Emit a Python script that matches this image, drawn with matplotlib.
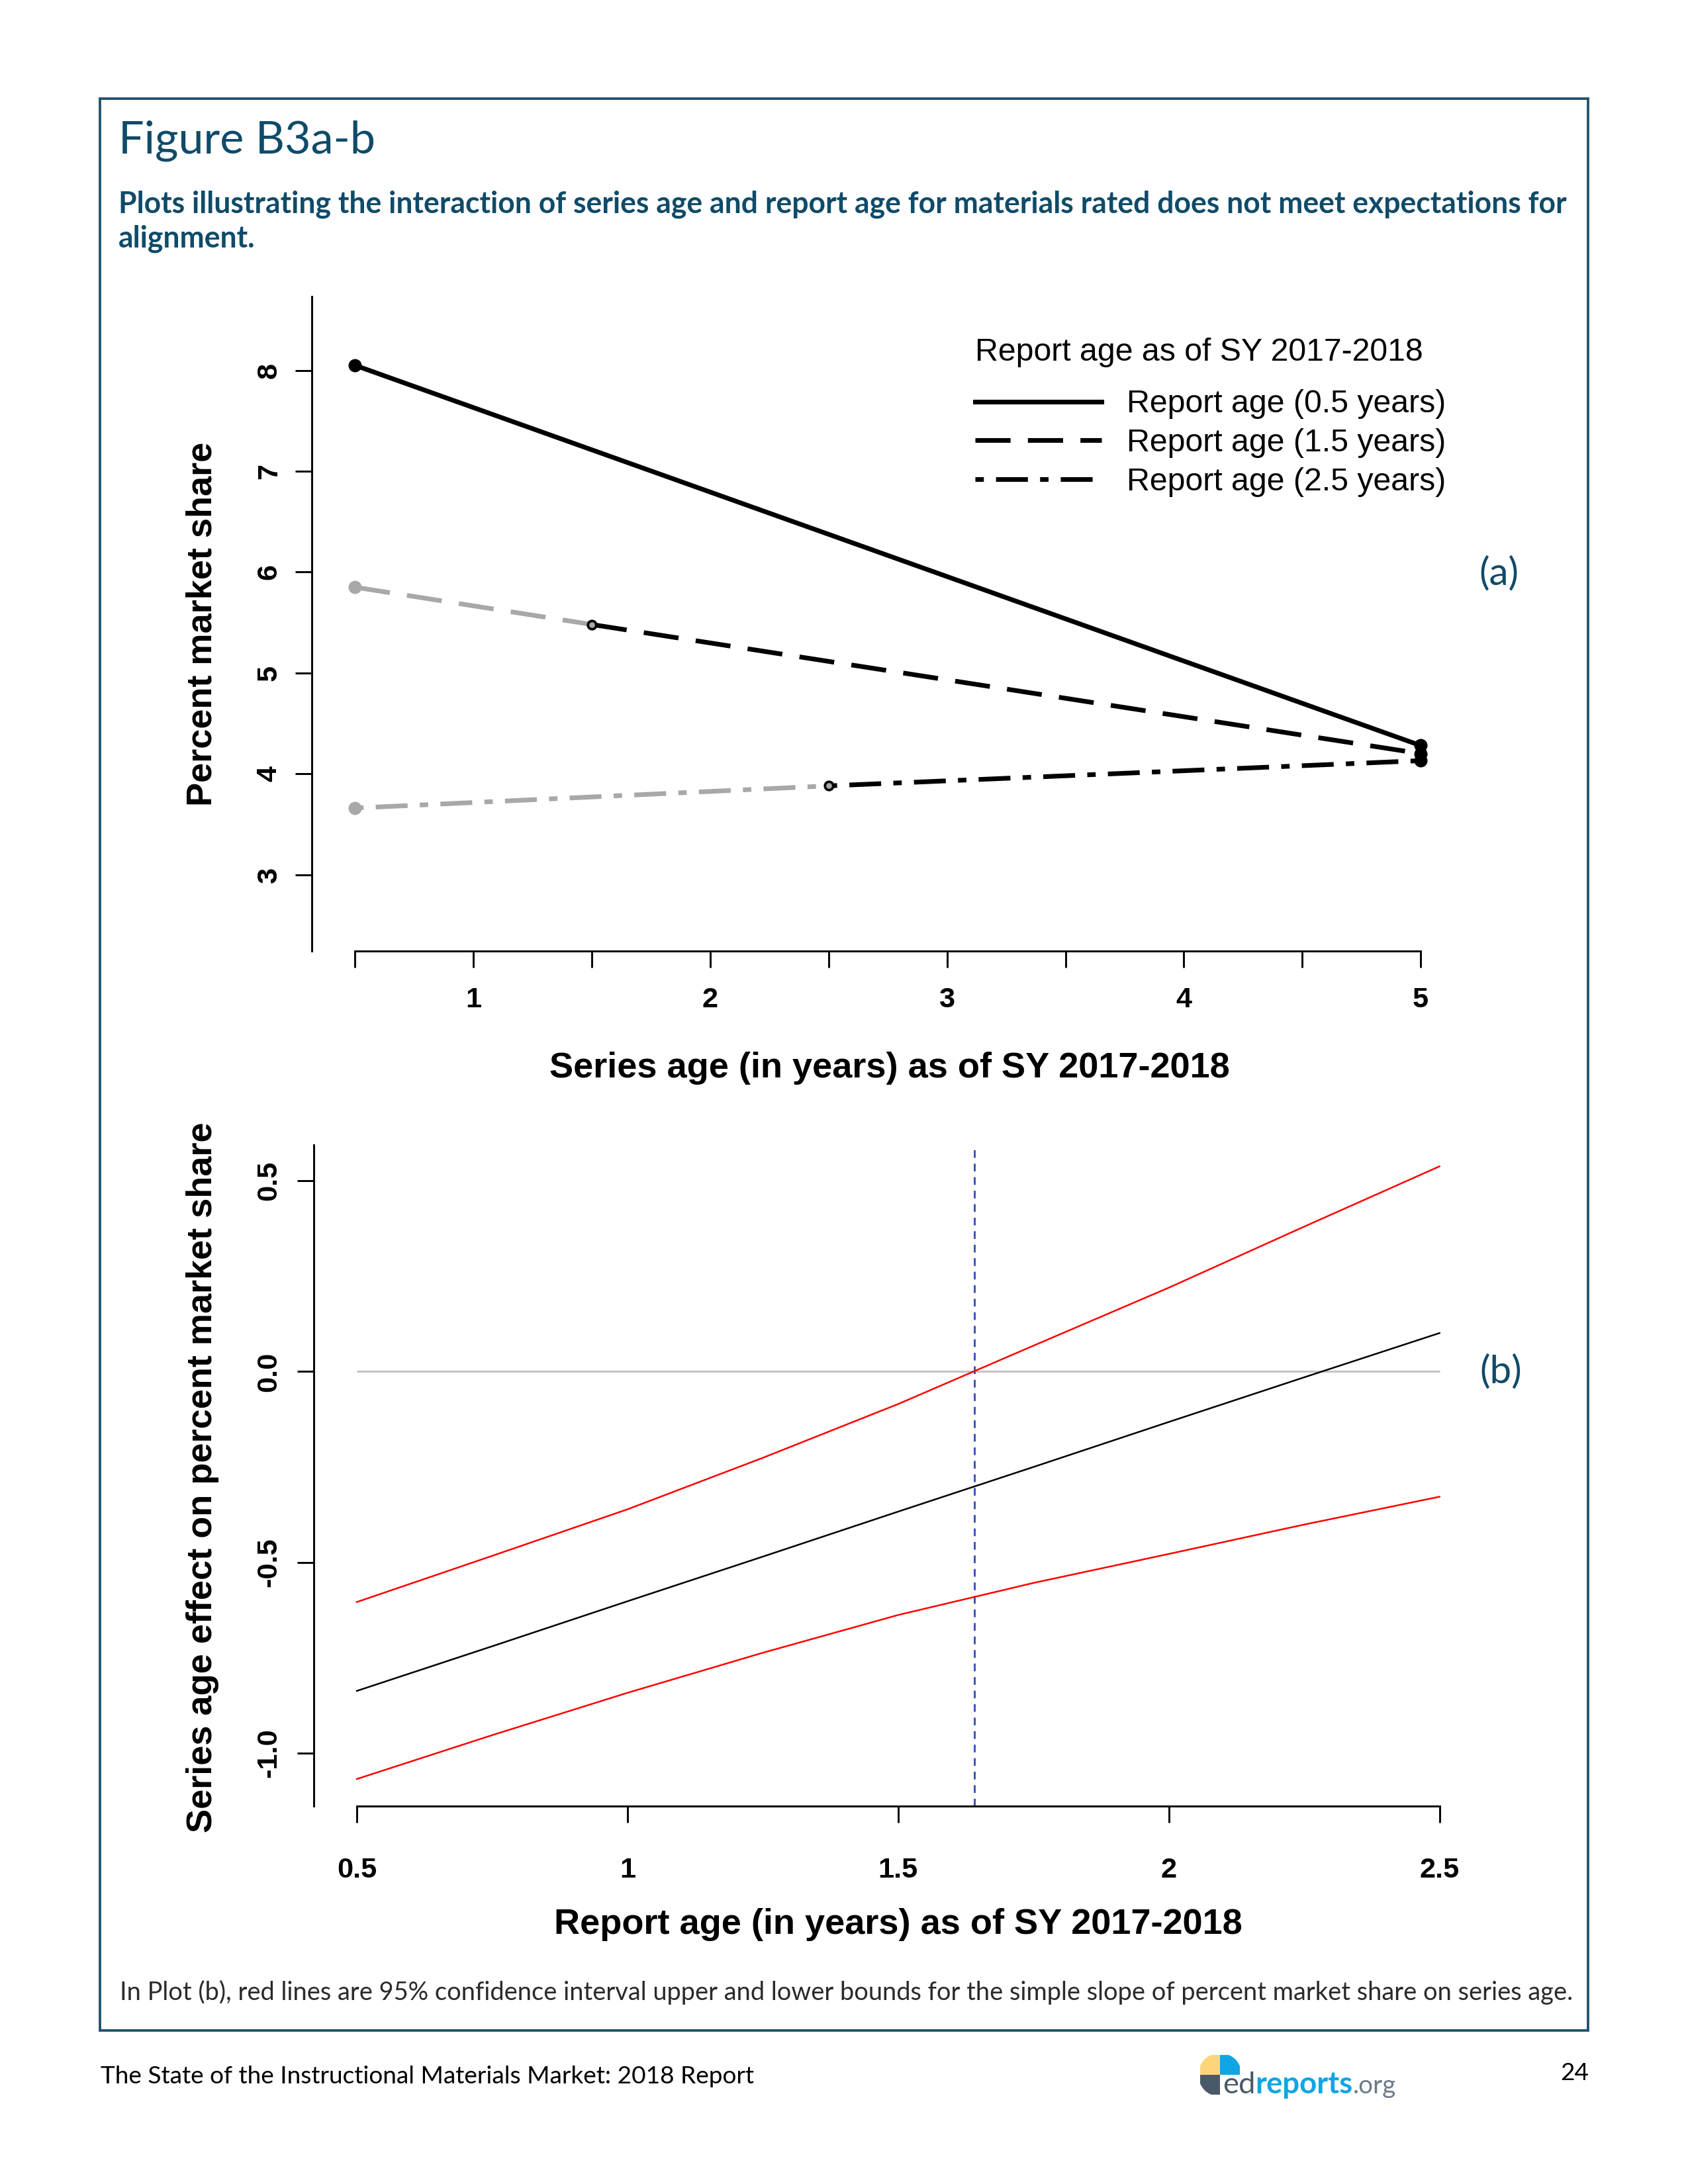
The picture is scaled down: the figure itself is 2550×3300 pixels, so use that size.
import matplotlib
matplotlib.use('Agg')
import matplotlib.pyplot as plt
from matplotlib.lines import Line2D
from matplotlib.patches import Rectangle, Wedge

# ---- data ----
# (a) predicted percent market share by series age, one line per report age
rep05_x = [0.5, 5.0]
rep05_y = [8.05, 4.28]
rep15_x = [0.5, 1.5, 5.0]
rep15_y = [5.85, 5.48, 4.20]
rep25_x = [0.5, 2.5, 5.0]
rep25_y = [3.66, 3.88, 4.13]
legend_labels = ['Report age (0.5 years)', 'Report age (1.5 years)', 'Report age (2.5 years)']
top_xticks = [0.5, 1, 1.5, 2, 2.5, 3, 3.5, 4, 4.5, 5]
top_xticklabels = ['', '1', '', '2', '', '3', '', '4', '', '5']
top_yticks = [3, 4, 5, 6, 7, 8]

# (b) simple slope of series age across report age, with 95% CI
report_age = [0.5, 0.75, 1.0, 1.25, 1.5, 1.75, 2.0, 2.25, 2.5]
slope_est = [-0.837, -0.720, -0.602, -0.485, -0.367, -0.250, -0.132, -0.015, 0.101]
ci_upper = [-0.604, -0.483, -0.361, -0.226, -0.085, 0.068, 0.220, 0.380, 0.538]
ci_lower = [-1.068, -0.953, -0.842, -0.737, -0.638, -0.554, -0.478, -0.401, -0.328]
jn_point = 1.641
bot_xticks = [0.5, 1.0, 1.5, 2.0, 2.5]
bot_xticklabels = ['0.5', '1', '1.5', '2', '2.5']
bot_yticks = [-1.0, -0.5, 0.0, 0.5]

W, H = 2550, 3300
TEAL = '#0f4b69'
GREY = '#a8a8a8'
RFONT = 'Liberation Sans'
PFONT = 'Lato'

fig = plt.figure(figsize=(8.5, 11), dpi=300)
fig.patch.set_facecolor('white')


def fx(px):
    return px / W


def fy(py):
    return 1 - py / H


renderer = fig.canvas.get_renderer()


def fit_text(x, y, s, width, **kw):
    # place text at pixel position, scale the font so the width matches
    t = fig.text(fx(x), fy(y), s, **kw)
    bb = t.get_window_extent(renderer=renderer)
    t.set_fontsize(t.get_fontsize() * width / bb.width)
    return t


# page frame
fig.add_artist(Rectangle((fx(151), fy(3068)), (2399 - 151) / W, (3068 - 149) / H,
                         transform=fig.transFigure, fill=False, ec='#1d4f6b', lw=0.9))

# page headings
fit_text(179, 232, 'Figure B3a-b', 389, fontsize=16, family=PFONT, color=TEAL)
sub = fit_text(179, 322, 'Plots illustrating the interaction of series age and report age '
               'for materials rated does not meet expectations for', 2187,
               fontsize=10, family=PFONT, weight='bold', color=TEAL)
fig.text(fx(179), fy(373), 'alignment.', fontsize=sub.get_fontsize(), family=PFONT,
         weight='bold', color=TEAL)

# ---------------- plot (a) ----------------
ax1 = fig.add_axes([fx(471), fy(1437), (2210.5 - 471) / W, (1437 - 448) / H])
ax1.set_xlim(0.317, 5.18)
ax1.set_ylim(2.242, 8.733)

lw = 1.7
dash_long = (7.5, 3.7)
dash_dot = (1.8, 2.6, 6.8, 2.6)

# report age 0.5 (solid)
ax1.plot(rep05_x, rep05_y, color='black', lw=lw, solid_capstyle='round', zorder=3)
ax1.plot(rep05_x, rep05_y, 'o', color='black', ms=3.8, zorder=4)

# report age 1.5 (dashed): grey before report age, black after
ax1.plot(rep15_x[:2], rep15_y[:2], color=GREY, lw=lw, dashes=dash_long, zorder=2)
ax1.plot(rep15_x[1:], rep15_y[1:], color='black', lw=lw, dashes=dash_long, zorder=3)
ax1.plot(rep15_x[0], rep15_y[0], 'o', color=GREY, ms=3.8, zorder=4)
ax1.plot(rep15_x[1], rep15_y[1], 'o', mfc=GREY, mec='black', ms=3.0, mew=0.9, zorder=4)
ax1.plot(rep15_x[2], rep15_y[2], 'o', color='black', ms=3.8, zorder=4)

# report age 2.5 (dot-dash)
ax1.plot(rep25_x[:2], rep25_y[:2], color=GREY, lw=lw, dashes=dash_dot, zorder=2)
ax1.plot(rep25_x[1:], rep25_y[1:], color='black', lw=lw, dashes=dash_dot, zorder=3)
ax1.plot(rep25_x[0], rep25_y[0], 'o', color=GREY, ms=3.8, zorder=4)
ax1.plot(rep25_x[1], rep25_y[1], 'o', mfc=GREY, mec='black', ms=3.0, mew=0.9, zorder=4)
ax1.plot(rep25_x[2], rep25_y[2], 'o', color='black', ms=3.8, zorder=4)

for s in ['top', 'right']:
    ax1.spines[s].set_visible(False)
ax1.spines['left'].set_linewidth(0.7)
ax1.spines['bottom'].set_linewidth(0.7)
ax1.spines['bottom'].set_bounds(0.5, 5)

ax1.set_xticks(top_xticks)
ax1.set_xticklabels(top_xticklabels)
ax1.set_yticks(top_yticks)
ax1.set_yticklabels([str(v) for v in top_yticks])
ax1.tick_params(axis='both', direction='out', length=6, width=0.7, labelsize=10.4)
ax1.tick_params(axis='x', pad=7.0)
ax1.tick_params(axis='y', pad=4.6, labelrotation=90)
for lab in ax1.get_xticklabels() + ax1.get_yticklabels():
    lab.set_family(RFONT)
    lab.set_weight('bold')
for lab in ax1.get_yticklabels():
    lab.set_va('center')

ax1.set_xlabel('Series age (in years) as of SY 2017-2018', family=RFONT,
               weight='bold', fontsize=13)
ax1.set_ylabel('Percent market share', family=RFONT, weight='bold', fontsize=13)
ax1.xaxis.set_label_coords(0.502, -0.1535)
ax1.yaxis.set_label_coords(-0.0805, 0.5)

# legend
ax1.text(0.576, 0.902, 'Report age as of SY 2017-2018', transform=ax1.transAxes,
         family=RFONT, fontsize=11.6, va='baseline', ha='left')
handles = [Line2D([], [], color='black', lw=lw),
           Line2D([], [], color='black', lw=lw, dashes=dash_long),
           Line2D([], [], color='black', lw=lw, dashes=dash_dot)]
leg = ax1.legend(handles, legend_labels, loc='upper left', bbox_to_anchor=(0.576, 0.858),
                 frameon=False, borderpad=0, borderaxespad=0, handlelength=3.95,
                 handletextpad=0.78, labelspacing=0.28,
                 prop={'family': RFONT, 'size': 11.6})

fig.text(fx(2264), fy(867), '(a)', fontsize=14, family=PFONT, color=TEAL,
         ha='center', va='center')

# ---------------- plot (b) ----------------
ax2 = fig.add_axes([fx(474.5), fy(2729), (2240 - 474.5) / W, (2729 - 1729.5) / H])
ax2.set_xlim(0.421, 2.58)
ax2.set_ylim(-1.139, 0.595)

ax2.hlines(0, report_age[0], report_age[-1], color='#c2c2c2', lw=0.7, zorder=1)
ax2.axvline(jn_point, color='#3b55b5', lw=0.7, dashes=(4, 3), zorder=2)
ax2.plot(report_age, ci_upper, color='red', lw=0.6, zorder=3)
ax2.plot(report_age, ci_lower, color='red', lw=0.6, zorder=3)
ax2.plot(report_age, slope_est, color='black', lw=0.6, zorder=3)

for s in ['top', 'right']:
    ax2.spines[s].set_visible(False)
ax2.spines['left'].set_linewidth(0.7)
ax2.spines['bottom'].set_linewidth(0.7)
ax2.spines['bottom'].set_bounds(0.5, 2.5)

ax2.set_xticks(bot_xticks)
ax2.set_xticklabels(bot_xticklabels)
ax2.set_yticks(bot_yticks)
ax2.set_yticklabels(['%.1f' % v for v in bot_yticks])
ax2.tick_params(axis='both', direction='out', length=6, width=0.7, labelsize=10.4)
ax2.tick_params(axis='x', pad=12.5)
ax2.tick_params(axis='y', pad=5.6, labelrotation=90)
for lab in ax2.get_xticklabels() + ax2.get_yticklabels():
    lab.set_family(RFONT)
    lab.set_weight('bold')
for lab in ax2.get_yticklabels():
    lab.set_va('center')

ax2.set_xlabel('Report age (in years) as of SY 2017-2018', family=RFONT,
               weight='bold', fontsize=13)
ax2.set_ylabel('Series age effect on percent market share', family=RFONT,
               weight='bold', fontsize=13)
ax2.xaxis.set_label_coords(0.5, -0.154)
ax2.yaxis.set_label_coords(-0.0813, 0.497)

fig.text(fx(2267), fy(2073), '(b)', fontsize=14, family=PFONT, color=TEAL,
         ha='center', va='center')

# caption
fit_text(181, 3022, 'In Plot (b), red lines are 95% confidence interval upper and lower '
         'bounds for the simple slope of percent market share on series age.', 2192,
         fontsize=8, family=PFONT, color='#2a2a2a')

# footer
foot = fit_text(152, 3148, 'The State of the Instructional Materials Market: 2018 Report', 990,
                fontsize=9.5, family=PFONT, color='black')
fig.text(fx(2400), fy(3143), '24', fontsize=foot.get_fontsize(), family=PFONT,
         color='black', ha='right', va='baseline')

# edreports logo: four-quarter icon plus word mark
r = 30
lax = fig.add_axes([fx(1843 - r), fy(3135 + r), 2 * r / W, 2 * r / H])
lax.set_xlim(-1, 1)
lax.set_ylim(-1, 1)
lax.set_aspect('equal')
lax.axis('off')
g = 0.07
lax.add_patch(Wedge((-g, g), 0.93, 90, 180, color='#fcd57a'))
lax.add_patch(Wedge((g, g), 0.93, 0, 90, color='#10a5e3'))
lax.add_patch(Wedge((-g, -g), 0.93, 180, 270, color='#4a5967'))

parts = [('ed', '#4a5967', 'normal'), ('reports', '#10a5e3', 'bold'), ('.org', '#6d7b87', 'normal')]
base = 11
widths = []
txts = []
for s, c, w in parts:
    t = fig.text(0, 0, s, fontsize=base, family=PFONT, color=c, weight=w, va='baseline')
    widths.append(t.get_window_extent(renderer=renderer).width)
    txts.append(t)
scale = (2120 - 1847) / sum(widths)
xpos = 1847
for t, wd in zip(txts, widths):
    t.set_fontsize(base * scale)
    t.set_position((fx(xpos), fy(3163)))
    xpos += wd * scale
txts[2].set_fontsize(base * scale * 0.85)

fig.savefig('out.png', dpi=300, facecolor='white')
